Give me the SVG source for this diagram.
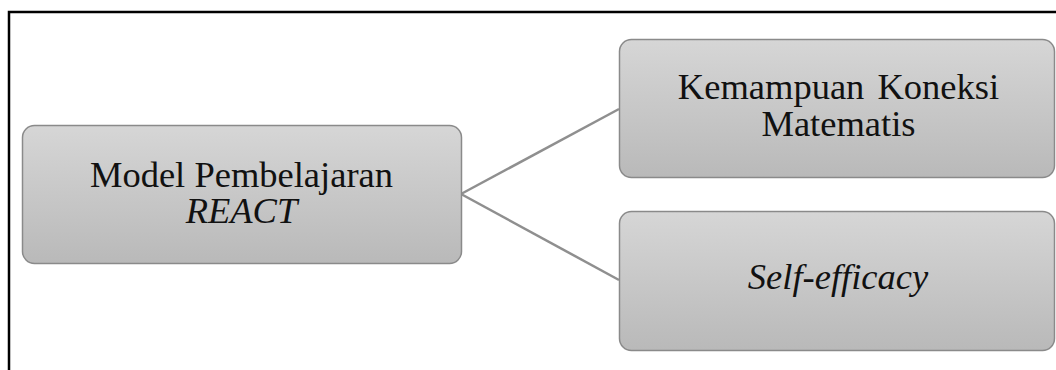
<svg xmlns="http://www.w3.org/2000/svg" width="1056" height="370" viewBox="0 0 1056 370">
<style>
.node{fill:url(#g);stroke:#8a8a8a;stroke-width:1.5}
.t{font-family:"Liberation Serif",serif;font-size:36.5px;fill:#111;text-anchor:middle}
.i{font-style:italic}
.c{stroke:#8f8f8f;stroke-width:2.5;fill:none}
</style>
<defs>
<linearGradient id="g" x1="0" y1="0" x2="0" y2="1">
<stop offset="0" stop-color="#d6d6d6"/>
<stop offset="1" stop-color="#b9b9b9"/>
</linearGradient>
</defs>
<rect x="0" y="0" width="1056" height="370" fill="#fff"/>
<path d="M9 370 V12 H1056" fill="none" stroke="#000" stroke-width="2.5"/>
<g id="connectors">
<line class="c" x1="461" y1="194" x2="619" y2="109"/>
<line class="c" x1="461" y1="194" x2="619" y2="280"/>
</g>
<g id="node-react">
<rect class="node" x="22.5" y="125.5" width="439" height="138" rx="12"/>
<text class="t" x="241.5" y="187">Model Pembelajaran</text>
<text class="t i" x="241.5" y="223">REACT</text>
</g>
<g id="node-koneksi">
<rect class="node" x="619.5" y="39.5" width="435" height="138" rx="12"/>
<text class="t" x="838.5" y="99" word-spacing="4">Kemampuan Koneksi</text>
<text class="t" x="838.5" y="136">Matematis</text>
</g>
<g id="node-self">
<rect class="node" x="619.5" y="211.5" width="435" height="139" rx="12"/>
<text class="t i" x="838" y="289">Self-efficacy</text>
</g>
</svg>
